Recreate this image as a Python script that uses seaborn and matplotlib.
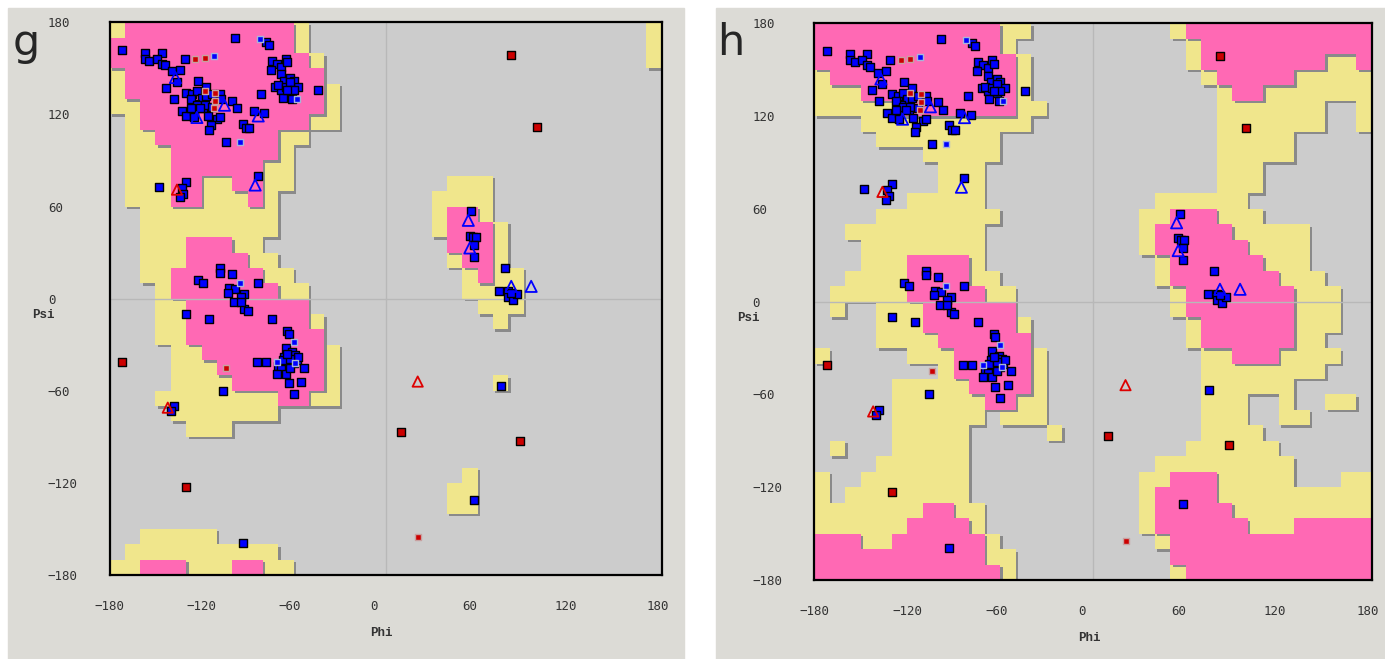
"""
Ramachandran plots, panels g and h, redrawn with seaborn.
"""
import numpy as np
import pandas as pd
import seaborn as sns
from matplotlib import pyplot as plt
from matplotlib.colors import ListedColormap
from matplotlib.patches import Rectangle
from matplotlib.transforms import ScaledTranslation

# region maps on a 10 degree grid
# row 0 is psi 170..180, column 0 is phi -180..-170
# "." = disallowed, "y" = allowed, "p" = favoured
regions_g = [
    "y" + "p" * 11 + "y" + "." * 22 + "y",
    "p" * 12 + "y" + "." * 22 + "y",
    "p" * 13 + "y" + "." * 21 + "y",
    "y" + "p" * 13 + "." * 22,
    "y" + "p" * 13 + "y" + "." * 21,
    "yy" + "p" * 12 + "y" + "." * 21,
    ".y" + "p" * 11 + "yy" + "." * 21,
    ".yy" + "p" * 8 + "yy" + "." * 23,
    ".yyy" + "p" * 7 + "y" + "." * 24,
    ".yyy" + "p" * 6 + "yy" + "." * 24,
    ".yyyppyyppyy" + "." * 10 + "yyy" + "." * 11,
    ".yyyppyyypy" + "." * 10 + "yyyy" + "." * 11,
    ".." + "y" * 9 + "." * 10 + "yppy" + "." * 11,
    ".." + "y" * 9 + "." * 10 + "ypppy" + "." * 10,
    "..yyypppyy" + "." * 12 + "pppy" + "." * 10,
    "..yyyppppyy" + "." * 11 + "yppy" + "." * 10,
    "..yy" + "p" * 6 + "yy" + "." * 11 + "ypyy" + "." * 9,
    "...y" + "p" * 7 + "yy" + "." * 10 + "yyyy" + "." * 9,
    "...yy" + "p" * 8 + "." * 11 + "yyy" + "." * 9,
    "...yy" + "p" * 8 + "y" + "." * 11 + "y" + "." * 10,
    "...yy" + "p" * 9 + "." * 22,
    "....yy" + "p" * 8 + "y" + "." * 21,
    "....yyy" + "p" * 7 + "y" + "." * 21,
    "....yyyy" + "p" * 6 + "y" + "." * 10 + "y" + "." * 10,
    "..." + "y" * 8 + "ppyy" + "." * 21,
    "...." + "y" * 7 + "." * 25,
    ".....yyy" + "." * 28,
    "." * 36,
    "." * 36,
    "." * 23 + "y" + "." * 12,
    "." * 22 + "yy" + "." * 12,
    "." * 22 + "yy" + "." * 12,
    "." * 36,
    ".." + "y" * 5 + "." * 29,
    "." + "y" * 10 + "." * 25,
    "yypppyyyppyy" + "." * 24,
]

regions_h = [
    "p" * 12 + "yy" + "." * 9 + "y" + "p" * 12,
    "p" * 12 + "y" + "." * 11 + "y" + "p" * 11,
    "p" * 13 + "y" + "." * 10 + "y" + "p" * 8 + "yyp",
    "y" + "p" * 12 + "y" + "." * 11 + "y" + "p" * 5 + "y" * 5,
    "yyy" + "p" * 10 + "y" + "." * 12 + "ypp" + "y" * 7,
    "y" * 5 + "p" * 8 + "yy" + "." * 11 + "y" * 7 + "..y",
    "..." + "y" * 11 + "." * 12 + "y" * 7 + "..y",
    "...." + "y" * 8 + "." * 14 + "y" * 5 + "." * 5,
    "." * 7 + "y" * 5 + "." * 14 + "y" * 5 + "." * 5,
    "." * 8 + "yyy" + "." * 15 + "yyy" + "." * 7,
    "." * 8 + "yyy" + "." * 15 + "yyy" + "." * 7,
    "." * 6 + "y" * 5 + "." * 11 + "y" * 6 + "." * 8,
    "...." + "y" * 8 + "." * 9 + "yypppyyy" + "." * 7,
    ".." + "y" * 9 + "." * 10 + "y" + "p" * 5 + "y" * 5 + "." * 4,
    "..." + "y" * 8 + "." * 10 + "y" + "p" * 6 + "y" * 4 + "." * 4,
    "...yyyppppy" + "." * 11 + "y" + "p" * 6 + "yyy" + "." * 4,
    "..yyyyppppyy" + "." * 10 + "y" + "p" * 7 + "yyy" + "...",
    "." + "y" * 5 + "p" * 5 + "yy" + "." * 10 + "y" + "p" * 7 + "yyy..",
    ".y..yyy" + "p" * 6 + "." * 10 + "y" + "p" * 7 + "yyy..",
    "....yyy" + "p" * 6 + "y" + "." * 10 + "y" + "p" * 6 + "yyy..",
    "....yyyy" + "p" * 6 + "." * 10 + "y" + "p" * 6 + "yy...",
    "y.....yyy" + "p" * 5 + "y" + "." * 10 + "yypppyyyy..",
    "." * 8 + "y" + "p" * 5 + "y" + "." * 10 + "y" * 8 + "...",
    "." * 5 + "y" * 5 + "ppppy" + "." * 10 + "y" * 6 + "." * 5,
    "." * 5 + "y" * 6 + "ppyy" + "." * 10 + "yyy..y..yy.",
    "." * 5 + "y" * 6 + ".yyy" + "." * 10 + "yyy..yy" + "." * 4,
    "." * 5 + "y" * 5 + "." * 5 + "y" + "." * 9 + "yyyy" + "." * 7,
    ".y..." + "y" * 5 + "." * 14 + "y" * 6 + "." * 6,
    "...." + "y" * 6 + "." * 12 + "y" * 9 + "." * 5,
    "y.." + "y" * 7 + "." * 11 + "yyppp" + "y" * 5 + "...yy",
    "y." + "y" * 8 + "." * 11 + "ypppp" + "y" * 10,
    "y" * 7 + "ppyy" + "." * 10 + "y" + "p" * 5 + "y" * 9,
    "y" * 6 + "ppppy" + "." * 10 + "y" + "p" * 6 + "yyy" + "p" * 5,
    "pppyy" + "p" * 6 + "y" + "." * 10 + "y" + "p" * 13,
    "p" * 11 + "yy" + "." * 10 + "p" * 13,
    "p" * 12 + "y" + "." * 10 + "y" + "p" * 12,
]

# residues (the same structure is shown in both panels)
fav_phi = [-172, -157, -146, -157, -154, -149, -146, -144, -139, -134, -136, -131,
           -98, -78, -76, -122, -117, -143,
           -130, -126, -123, -120, -117, -113, -108, -107, -124, -127, -133, -130,
           -125, -125, -119, -116, -110, -108, -114, -115, -100, -97, -138, -123,
           -118, -113, -121, -127,
           -93, -91, -89, -104, -86, -79, -81,
           -74, -71, -68, -65, -64, -75,
           -72, -68, -66, -62, -60, -68, -62, -57, -67, -61, -70, -65, -62, -60, -64,
           -44, -83, -148, -130, -133, -132, -134,
           -108, -108, -100, -122, -119, -83, -102, -98, -92, -94, -103, -99,
           -92, -90, -94, -130, -115, -74, -64, -63, -84, -78, -106, -138, -140,
           -53, -55, -63, -60,
           -65, -61, -59, -66, -63, -60, -58, -70, -68, -65, -71, -62, -57, -67,
           -62, -64,
           -93,
           56, 55, 57, 59, 58, 58, 78, 74, 80, 80, 83, 86, 82, 75, 58]
fav_psi = [162, 160, 160, 156, 155, 156, 153, 152, 148, 149, 141, 156,
           170, 167, 165, 142, 138, 137,
           134, 133, 135, 131, 132, 133, 133, 130, 127, 130, 122, 119,
           122, 118, 124, 119, 117, 118, 113, 110, 129, 124, 130, 126,
           126, 125, 124, 124,
           114, 111, 111, 102, 122, 121, 133,
           155, 153, 151, 156, 154, 149,
           138, 146, 142, 144, 142, 136, 135, 138, 131, 130, 139, 138, 141, 136, 136,
           136, 80, 73, 76, 72, 68, 66,
           20, 17, 16, 12, 10, 10, 7, 6, 3, 1, 4, -2,
           -7, -8, -2, -10, -13, -13, -21, -23, -41, -41, -60, -70, -73,
           -45, -54, -55, -62,
           -32, -35, -37, -38, -41, -42, -40, -44, -46, -49, -49, -45, -38, -40,
           -39, -36,
           -159,
           57, 41, 40, 40, 35, 27, 20, 5, 5, 1, -1, 3, 4, -57, -131]

gly_phi = [-82, -112, -95, -58, -95, -60, -71, -59]
gly_psi = [169, 158, 102, 130, 10, -28, -41, -42]

outlier_phi = [-172, -130, 82, 99, 10, 88]
outlier_psi = [-41, -123, 159, 112, -87, -93]

red_small_phi = [-118, -124, -118, -111, -112, -111, -104, 21]
red_small_psi = [157, 156, 135, 129, 124, 134, -45, -155]

tri_blue_phi = [-137, -83, -85, -105, -123, 54, 55, 82, 95]
tri_blue_psi = [144, 119, 74, 126, 118, 51, 33, 8, 8]

tri_red_phi = [-136, -142, 21]
tri_red_psi = [71, -71, -54]

ticks = [-180, -120, -60, 0, 60, 120, 180]
panel_letters = ["g", "h"]

W, H = 1385, 659
fig = plt.figure(figsize=(W / 100, H / 100), dpi=100)
sns.set_style("white")

# grey panel backgrounds (pixel boxes)
for x0, x1 in [(8, 684), (716, 1385)]:
    fig.patches.append(Rectangle((x0 / W, 0), (x1 - x0) / W, 1 - 8 / H,
                                 transform=fig.transFigure, color="#dcdbd6",
                                 zorder=-10))

boxes = [(109.5, 661.5, 22.3, 575.0), (814.3, 1371.7, 23.3, 580.0)]
edges = np.arange(-180, 181, 10)

pts = pd.concat([
    pd.DataFrame({"phi": fav_phi, "psi": fav_psi, "kind": "fav"}),
    pd.DataFrame({"phi": gly_phi, "psi": gly_psi, "kind": "gly"}),
    pd.DataFrame({"phi": outlier_phi, "psi": outlier_psi, "kind": "out"}),
    pd.DataFrame({"phi": red_small_phi, "psi": red_small_psi, "kind": "rsm"}),
    pd.DataFrame({"phi": tri_blue_phi, "psi": tri_blue_psi, "kind": "tb"}),
    pd.DataFrame({"phi": tri_red_phi, "psi": tri_red_psi, "kind": "tr"}),
])


def draw_regions(ax, rows):
    code = np.array([[{".": 0, "y": 1, "p": 2}[c] for c in r] for r in rows])[::-1]
    shadow = ax.transData + ScaledTranslation(2.5 / 100, -2.5 / 100,
                                              fig.dpi_scale_trans)
    for level, col in [(1, "#f0e68c"), (2, "#ff69b4")]:
        m = np.ma.masked_where(code < level, np.ones_like(code))
        ax.pcolormesh(edges, edges, m, cmap=ListedColormap(["#8a8a8a"]),
                      transform=shadow, zorder=1 + level, antialiased=False)
        ax.pcolormesh(edges, edges, m, cmap=ListedColormap([col]),
                      zorder=1.5 + level, antialiased=False)


for k, (rows, (x0, x1, y0, y1)) in enumerate(zip([regions_g, regions_h], boxes)):
    ax = fig.add_axes([x0 / W, 1 - y1 / H, (x1 - x0) / W, (y1 - y0) / H])
    ax.set_facecolor("#cccccc")
    draw_regions(ax, rows)
    ax.axhline(0, color="#b8b8b8", lw=1, zorder=4)
    ax.axvline(0, color="#b8b8b8", lw=1, zorder=4)

    d = pts[pts.kind == "fav"]
    sns.scatterplot(data=d, x="phi", y="psi", ax=ax, marker="s", color="#0000ff",
                    edgecolor="black", linewidth=1.0, s=38, zorder=6, legend=False)
    d = pts[pts.kind == "gly"]
    sns.scatterplot(data=d, x="phi", y="psi", ax=ax, marker="s", color="#0000ff",
                    edgecolor="#a8b4d8", linewidth=1.0, s=24, zorder=6, legend=False)
    d = pts[pts.kind == "out"]
    sns.scatterplot(data=d, x="phi", y="psi", ax=ax, marker="s", color="#cc0000",
                    edgecolor="black", linewidth=1.0, s=28, zorder=6, legend=False)
    d = pts[pts.kind == "rsm"]
    sns.scatterplot(data=d, x="phi", y="psi", ax=ax, marker="s", color="#cc0000",
                    edgecolor="#c8a0a0", linewidth=1.0, s=22, zorder=6, legend=False)
    d = pts[pts.kind == "tb"]
    sns.scatterplot(data=d, x="phi", y="psi", ax=ax, marker="^", facecolor="none",
                    edgecolor="#0000ff", linewidth=1.3, s=65, zorder=7, legend=False)
    d = pts[pts.kind == "tr"]
    sns.scatterplot(data=d, x="phi", y="psi", ax=ax, marker="^", facecolor="none",
                    edgecolor="#dd0000", linewidth=1.3, s=55, zorder=7, legend=False)

    ax.set_xlim(-180, 180)
    ax.set_ylim(-180, 180)
    ax.set_xticks(ticks)
    ax.set_yticks(ticks)
    ax.set_xlabel("")
    ax.set_ylabel("")
    for sp in ax.spines.values():
        sp.set_color("black")
        sp.set_linewidth(1.6)
        sp.set_zorder(8)
    ax.tick_params(direction="out", length=10.8, width=1, color="#444444",
                   labelsize=9, labelcolor="#333333", pad=4)
    ax.tick_params(axis="x", pad=7.5)
    for lab in ax.get_xticklabels():
        lab.set_family("DejaVu Sans Mono")
        lab.set_ha("left")
        lab.set_transform(lab.get_transform() +
                          ScaledTranslation(-15 / 100, 0, fig.dpi_scale_trans))
    for lab in ax.get_yticklabels():
        lab.set_family("DejaVu Sans Mono")
        lab.set_ha("left")
        lab.set_transform(lab.get_transform() +
                          ScaledTranslation(-41 / 100, 0, fig.dpi_scale_trans))

    ax.text(-15 / (x1 - x0) + 0.5, -58 / (y1 - y0), "Phi", transform=ax.transAxes,
            family="Liberation Mono", fontweight="bold", fontsize=9,
            color="#333333", ha="left", va="center")
    ax.text(-77 / (x1 - x0), 0.5 - 16 / (y1 - y0), "Psi", transform=ax.transAxes,
            family="Liberation Mono", fontweight="bold", fontsize=9,
            color="#333333", ha="left", va="center")
    fig.text((x0 - 97) / W, 1 - 55 / H, panel_letters[k], fontsize=31,
             family="DejaVu Sans", ha="left", va="baseline")

fig.savefig("out.png", dpi=100, facecolor="white")
